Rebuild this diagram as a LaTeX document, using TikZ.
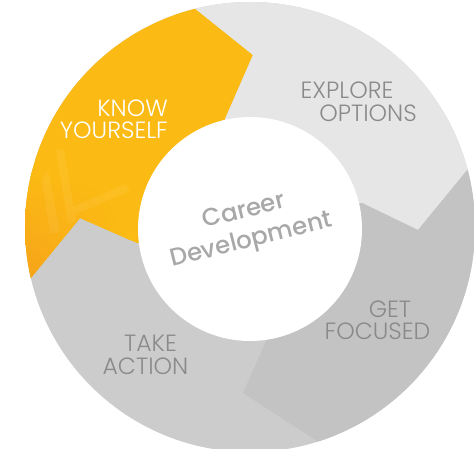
\documentclass[tikz,border=0pt]{standalone}
\usepackage{fontspec}
\usetikzlibrary{shadings}
\setmainfont{Poppins}
\newfontfamily\lightfont{Poppins Light}
\newfontfamily\mediumfont{Poppins Medium}
\definecolor{yel}{HTML}{FCBB14}
\definecolor{yelor}{HTML}{F2961C}
\definecolor{explore}{HTML}{E6E6E6}
\definecolor{focus}{HTML}{C3C3C3}
\definecolor{action}{HTML}{CCCCCC}
\definecolor{labelgray}{HTML}{8A8A8A}
\definecolor{centergray}{HTML}{A8A8A8}
\tikzset{
  seglabel/.style={inner sep=0pt, font=\lightfont\fontsize{23.5}{28}\selectfont, text=labelgray},
  knowlabel/.style={seglabel, text=white},
  centerlabel/.style={inner sep=0pt, align=center, font=\mediumfont\fontsize{24.5}{30}\selectfont, text=centergray, rotate=14},
  faint/.style={fill=white, fill opacity=0.06}
}
\begin{document}
\begin{tikzpicture}[x=1pt,y=-1pt]
\useasboundingbox (0,0) rectangle (474,449);
\coordinate (O) at (250,227);
\coordinate (I) at (250,229);
% boundary points: inner, tip, outer (extended)
\coordinate (a1) at (225,119); \coordinate (a2) at (253,55);  \coordinate (a3) at (163,-17);
\coordinate (b1) at (362,203); \coordinate (b2) at (418,230); \coordinate (b3) at (491,141);
\coordinate (c1) at (268,337); \coordinate (c2) at (243,393); \coordinate (c3) at (354,465);
\coordinate (d1) at (137,243); \coordinate (d2) at (80,218);  \coordinate (d3) at (8,306);
\begin{scope}
  \clip (O) circle (225);
  % take action base
  \fill[action] (O) circle (226);
  % know yourself
  \begin{scope}
    \clip (O) -- (d1) -- (d2) -- (d3) -- (-40,306) -- (-40,-40) -- (163,-40) -- (a3) -- (a2) -- (a1) -- cycle;
    \fill[yel] (-40,-40) rectangle (300,320);
    \shade[upper left=yel, upper right=yel, lower right=yel, lower left=yelor] (0,170) rectangle (130,300);
    \fill[faint] (56,150) -- (64,149) -- (76,222) -- (68,223) -- cycle;
    \fill[faint] (72,207) -- (126,184) -- (130,191) -- (76,214) -- cycle;
    \fill[faint] (48,170) -- (60,232) -- (50,234) -- (42,180) -- cycle;
  \end{scope}
  % explore options
  \fill[explore] (O) -- (a1) -- (a2) -- (a3) -- (163,-60) -- (520,-60) -- (520,141) -- (b3) -- (b2) -- (b1) -- cycle;
  % get focused
  \fill[focus] (O) -- (b1) -- (b2) -- (b3) -- (520,141) -- (520,500) -- (354,500) -- (c3) -- (c2) -- (c1) -- cycle;
\end{scope}
% centre disc
\fill[white] (I) circle (112);
% labels
\node[knowlabel, anchor=east] (know) at (168,108.5) {KNOW};
\node[knowlabel, anchor=east] (yourself) at (168,130.5) {YOURSELF};
\node[seglabel] (explore) at (347,90.5) {EXPLORE};
\node[seglabel] (options) at (368,113.5) {OPTIONS};
\node[seglabel] (get) at (390,309.5) {GET};
\node[seglabel] (focused) at (377.5,331.5) {FOCUSED};
\node[seglabel] (take) at (150.5,343.5) {TAKE};
\node[seglabel] (actionlbl) at (145.5,366.5) {ACTION};
\node[centerlabel] (career) at (248,227) {Career\\Development};
\end{tikzpicture}
\end{document}
